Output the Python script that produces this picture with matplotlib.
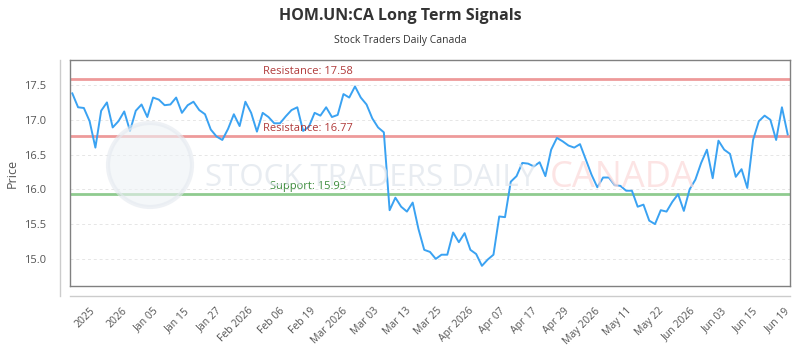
"""Recreate the HOM.UN:CA long term signals chart."""
import matplotlib
matplotlib.use("Agg")
import matplotlib.pyplot as plt
from matplotlib.lines import Line2D
from matplotlib.patches import Ellipse
import numpy as np

plt.rcParams["font.family"] = ["Open Sans", "DejaVu Sans"]

# daily closes
prices = [
    17.38, 17.18, 17.17, 16.98, 16.60, 17.13, 17.25, 16.89, 16.98, 17.12,
    16.84, 17.13, 17.22, 17.04, 17.32, 17.29, 17.21, 17.22, 17.32, 17.10,
    17.21, 17.26, 17.14, 17.08, 16.86, 16.76, 16.71, 16.87, 17.08, 16.91,
    17.26, 17.10, 16.83, 17.10, 17.04, 16.95, 16.95, 17.05, 17.14, 17.18,
    16.84, 16.90, 17.10, 17.06, 17.18, 17.04, 17.07, 17.37, 17.32, 17.48,
    17.32, 17.22, 17.02, 16.89, 16.82, 15.70, 15.88, 15.75, 15.68, 15.81,
    15.43, 15.13, 15.10, 15.00, 15.06, 15.06, 15.38, 15.24, 15.37, 15.13,
    15.07, 14.90, 14.99, 15.06, 15.61, 15.60, 16.11, 16.19, 16.38, 16.37,
    16.33, 16.39, 16.19, 16.57, 16.74, 16.69, 16.63, 16.60, 16.65, 16.43,
    16.21, 16.03, 16.17, 16.17, 16.06, 16.05, 15.98, 15.98, 15.75, 15.78,
    15.55, 15.50, 15.70, 15.68, 15.82, 15.93, 15.69, 16.00, 16.14, 16.38,
    16.57, 16.16, 16.70, 16.57, 16.51, 16.18, 16.29, 16.02, 16.71, 16.98,
    17.06, 17.00, 16.71, 17.18, 16.79,
]

tick_labels = [
    "2025", "2026", "Jan 05", "Jan 15", "Jan 27", "Feb 2026", "Feb 06",
    "Feb 19", "Mar 2026", "Mar 03", "Mar 13", "Mar 25", "Apr 2026", "Apr 07",
    "Apr 17", "Apr 29", "May 2026", "May 11", "May 22", "Jun 2026", "Jun 03",
    "Jun 15", "Jun 19",
]

resistance_hi = 17.58
resistance_lo = 16.77
support = 15.93
y_ticks = [15.0, 15.5, 16.0, 16.5, 17.0, 17.5]


def main():
    fig = plt.figure(figsize=(8, 3.5), dpi=100)
    ax = fig.add_axes([70 / 800, 1 - 286 / 350, 720 / 800, 226 / 350])

    # faint watermark behind the chart
    fig.patches.append(Ellipse((150 / 800, 1 - 165 / 350), 84 / 800, 84 / 350,
                               transform=fig.transFigure, facecolor="#eef2f6",
                               edgecolor="#e4e9ef", lw=3, alpha=0.6, zorder=0))
    fig.text(205 / 800, 1 - 178 / 350, "STOCK TRADERS DAILY", fontsize=22.5,
             color="#dfe5ec", alpha=0.7, va="center", ha="left", zorder=0)
    fig.text(550 / 800, 1 - 178 / 350, "CANADA", fontsize=26, color="#fcd9d9",
             alpha=0.7, va="center", ha="left", zorder=0)
    ax.set_facecolor("none")

    x = np.arange(len(prices))
    ax.plot(x, prices, color="#3aa2f2", lw=1.4, zorder=3)

    ax.axhline(resistance_hi, color="#ee9a9a", lw=2, zorder=2)
    ax.axhline(resistance_lo, color="#ee9a9a", lw=2, zorder=2)
    ax.axhline(support, color="#8fcb8f", lw=2, zorder=2)
    ax.text(0.33, resistance_hi + 0.03, f"Resistance: {resistance_hi}",
            transform=ax.get_yaxis_transform(), ha="center", va="bottom",
            fontsize=8, color="#b03a3a")
    ax.text(0.33, resistance_lo + 0.03, f"Resistance: {resistance_lo}",
            transform=ax.get_yaxis_transform(), ha="center", va="bottom",
            fontsize=8, color="#b03a3a")
    ax.text(0.33, support + 0.03, f"Support: {support}",
            transform=ax.get_yaxis_transform(), ha="center", va="bottom",
            fontsize=8, color="#3a8a3a")

    ax.set_xlim(-0.4, 124.4)
    ax.set_ylim(14.61, 17.86)
    ax.set_yticks(y_ticks)
    ax.set_yticklabels([f"{v:.1f}" for v in y_ticks])
    ax.set_xticks(np.linspace(3.0, 123.4, len(tick_labels)))
    ax.set_xticklabels(tick_labels, rotation=45, ha="right",
                       rotation_mode="anchor")
    ax.tick_params(axis="y", length=0, pad=17, labelsize=8, labelcolor="#555555")
    ax.tick_params(axis="x", length=0, pad=14, labelsize=7.5,
                   labelcolor="#555555")
    ax.grid(axis="y", linestyle=(0, (3, 3)), color="#e6e6e6", lw=0.7)

    for side in ax.spines.values():
        side.set_color("#808080")
        side.set_linewidth(1)

    # offset axis lines outside the frame
    ax.add_line(Line2D([-10 / 720, -10 / 720], [-10 / 226, 1.0],
                       transform=ax.transAxes, color="#cccccc", lw=1,
                       clip_on=False))
    ax.add_line(Line2D([0, 1], [-10 / 226, -10 / 226],
                       transform=ax.transAxes, color="#cccccc", lw=1,
                       clip_on=False))

    ax.set_ylabel("Price", fontsize=9, color="#555555", labelpad=4)
    fig.text(0.5, 1 - 16 / 350, "HOM.UN:CA Long Term Signals", ha="center",
             va="center", fontsize=11.5, fontweight="bold", color="#333333")
    fig.text(0.5, 1 - 41 / 350, "Stock Traders Daily Canada", ha="center",
             va="center", fontsize=7.5, color="#333333")

    fig.savefig("out.png", dpi=100)


if __name__ == "__main__":
    main()
